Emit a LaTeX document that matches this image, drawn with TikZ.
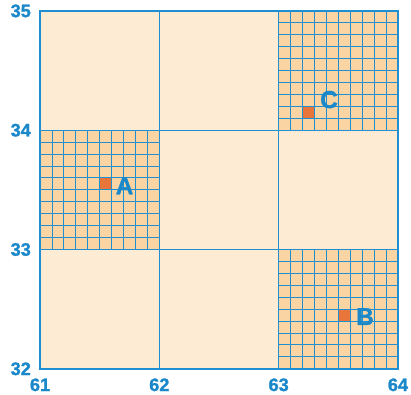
\documentclass[tikz,border=0pt]{standalone}
\usepackage{fontspec}
\setmainfont{Liberation Sans}[BoldFeatures={FakeBold=1.2}]
\usepackage{tikz}
\usetikzlibrary{positioning}
\definecolor{mapblue}{HTML}{1E8FD0}
\definecolor{cream}{HTML}{FDEBD4}
\definecolor{tan}{HTML}{FAD5A3}
\definecolor{marker}{HTML}{E8763A}
\definecolor{labelblue}{HTML}{1A88C9}

\begin{document}
\begin{tikzpicture}[scale=3,
    fine/.style={mapblue, line width=0.7pt},
    major/.style={mapblue, line width=0.9pt},
    axis/.style={font=\bfseries\fontsize{13}{13}\selectfont, text=labelblue, inner sep=0pt},
    ptlabel/.style={font=\bfseries\fontsize{17.5}{17.5}\selectfont, text=labelblue, inner sep=0pt}]
  \useasboundingbox (60.665,31.789) rectangle (64.11,35.092);
  \fill[cream] (61,32) rectangle (64,35);
  % cells with the fine grid
  \foreach \x/\y in {61/33, 63/34, 63/32} {
    \fill[tan] (\x,\y) rectangle ++(1,1);
  }
  \fill[marker] (61.5,33.5) rectangle ++(0.1,0.1);
  \fill[marker] (63.5,32.4) rectangle ++(0.1,0.1);
  \fill[marker] (63.2,34.1) rectangle ++(0.1,0.1);
  \foreach \x/\y in {61/33, 63/34, 63/32} {
    \foreach \i in {1,...,9} {
      \draw[fine] (\x+\i/10,\y) -- (\x+\i/10,\y+1);
      \draw[fine] (\x,\y+\i/10) -- (\x+1,\y+\i/10);
    }
  }
  % one-degree lines
  \foreach \v in {62,63} \draw[major] (\v,32) -- (\v,35);
  \foreach \h in {33,34} \draw[major] (61,\h) -- (64,\h);
  \draw[mapblue, line width=1.4pt] (61,32) rectangle (64,35);
  % latitude and longitude
  \node[axis, anchor=east] (lat35) at (60.925,35) {35};
  \node[axis, anchor=east] (lat34) at (60.925,34) {34};
  \node[axis, anchor=east] (lat33) at (60.925,33) {33};
  \node[axis, anchor=east] (lat32) at (60.925,32) {32};
  \node[axis] (lon61) at (61,31.866) {61};
  \node[axis] (lon62) at (62,31.866) {62};
  \node[axis] (lon63) at (63,31.866) {63};
  \node[axis] (lon64) at (64,31.866) {64};
  % points
  \node[ptlabel] (labA) at (61.708,33.533) {A};
  \node[ptlabel] (labB) at (63.724,32.438) {B};
  \node[ptlabel] (labC) at (63.422,34.257) {C};
\end{tikzpicture}
\end{document}
